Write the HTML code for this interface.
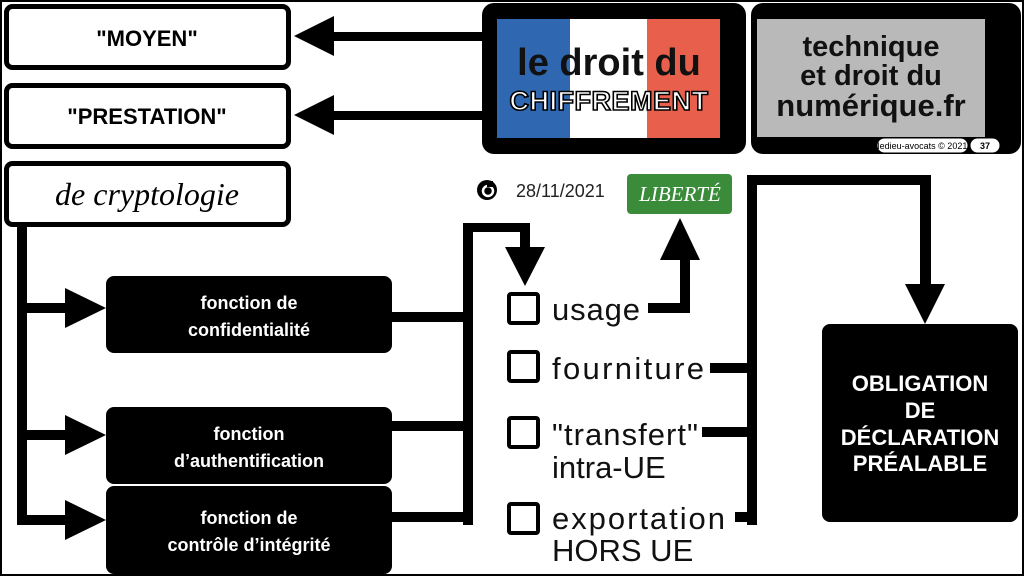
<!DOCTYPE html>
<html><head><meta charset="utf-8"><style>
html,body{margin:0;padding:0;background:#fff}
svg{display:block}
.b{font-family:"Liberation Sans",sans-serif;font-weight:bold}
.r{font-family:"Liberation Sans",sans-serif}
</style></head><body>
<svg width="1024" height="576" viewBox="0 0 1024 576" xmlns="http://www.w3.org/2000/svg">
<rect x="1" y="1" width="1022" height="574" fill="#fff" stroke="#000" stroke-width="2"/>
<rect x="6.5" y="6.5" width="282" height="61" rx="6" fill="#fff" stroke="#000" stroke-width="5"/>
<text x="147" y="46" class="b" font-size="22" text-anchor="middle">"MOYEN"</text>
<rect x="6.5" y="85.5" width="282" height="61" rx="6" fill="#fff" stroke="#000" stroke-width="5"/>
<text x="147" y="124" class="b" font-size="22" text-anchor="middle">"PRESTATION"</text>
<rect x="6.5" y="163.5" width="282" height="61" rx="6" fill="#fff" stroke="#000" stroke-width="5"/>
<text x="147" y="205" font-family="'Liberation Serif',serif" font-style="italic" font-size="32" text-anchor="middle">de cryptologie</text>
<rect x="330" y="32" width="155" height="9" fill="#000"/>
<polygon points="294,36 334,16 334,56" fill="#000"/>
<rect x="330" y="111" width="155" height="9" fill="#000"/>
<polygon points="294,115 334,95 334,135" fill="#000"/>
<rect x="482" y="3" width="264" height="151" rx="12" fill="#000"/>
<rect x="497" y="19" width="73" height="119" fill="#2f67b0"/>
<rect x="570" y="19" width="77" height="119" fill="#fff"/>
<rect x="647" y="19" width="73" height="119" fill="#e8604c"/>
<text x="609" y="75" class="b" font-size="38" text-anchor="middle" fill="#111">le droit du</text>
<text x="609" y="110" class="b" font-size="27" text-anchor="middle" fill="#fff" stroke="#000" stroke-width="1.6" letter-spacing="0.5">CHIFFREMENT</text>
<rect x="751" y="3" width="270" height="151" rx="12" fill="#000"/>
<rect x="757" y="19" width="228" height="118" fill="#b9b9b9"/>
<text x="871" y="56" class="b" font-size="29" text-anchor="middle" fill="#111">technique</text>
<text x="871" y="85" class="b" font-size="29" text-anchor="middle" fill="#111">et droit du</text>
<text x="871" y="116" class="b" font-size="31" text-anchor="middle" fill="#111">numérique.fr</text>
<rect x="877" y="138" width="91" height="15" rx="7.5" fill="#fff" stroke="#000" stroke-width="1"/>
<text x="922.5" y="149" class="r" font-size="9" text-anchor="middle">ledieu-avocats © 2021</text>
<rect x="970" y="138" width="30" height="15" rx="7.5" fill="#fff" stroke="#000" stroke-width="1"/>
<text x="985" y="149" class="b" font-size="9" text-anchor="middle">37</text>
<circle cx="487" cy="190" r="10" fill="#000"/>
<circle cx="488" cy="191" r="5" fill="none" stroke="#fff" stroke-width="2.5"/>
<rect x="487" y="181" width="6" height="6" fill="#000"/>
<text x="516" y="197" class="r" font-size="18" fill="#222">28/11/2021</text>
<rect x="627" y="174" width="105" height="40" rx="4" fill="#3a8c3a"/>
<text x="680" y="201" font-family="'Liberation Serif',serif" font-style="italic" font-size="21" text-anchor="middle" fill="#fff">LIBERTÉ</text>
<rect x="17" y="225" width="10" height="300" fill="#000"/>
<rect x="17" y="303" width="50" height="10" fill="#000"/>
<polygon points="106,308 65,288 65,328" fill="#000"/>
<rect x="17" y="430" width="50" height="10" fill="#000"/>
<polygon points="106,435 65,415 65,455" fill="#000"/>
<rect x="17" y="515" width="50" height="10" fill="#000"/>
<polygon points="106,520 65,500 65,540" fill="#000"/>
<rect x="106" y="276" width="286" height="77" rx="8" fill="#000"/>
<text x="249" y="309" class="b" font-size="18" fill="#fff" text-anchor="middle">fonction de</text>
<text x="249" y="336" class="b" font-size="18" fill="#fff" text-anchor="middle">confidentialité</text>
<rect x="106" y="407" width="286" height="77" rx="8" fill="#000"/>
<text x="249" y="440" class="b" font-size="18" fill="#fff" text-anchor="middle">fonction</text>
<text x="249" y="467" class="b" font-size="18" fill="#fff" text-anchor="middle">d’authentification</text>
<rect x="106" y="486" width="286" height="88" rx="8" fill="#000"/>
<text x="249" y="524" class="b" font-size="18" fill="#fff" text-anchor="middle">fonction de</text>
<text x="249" y="551" class="b" font-size="18" fill="#fff" text-anchor="middle">contrôle d’intégrité</text>
<rect x="463" y="223" width="10" height="302" fill="#000"/>
<rect x="392" y="312" width="75" height="10" fill="#000"/>
<rect x="392" y="421" width="75" height="10" fill="#000"/>
<rect x="392" y="512" width="75" height="10" fill="#000"/>
<rect x="463" y="223" width="67" height="9" fill="#000"/>
<rect x="520" y="223" width="10" height="30" fill="#000"/>
<polygon points="525,286 505,247 545,247" fill="#000"/>
<g fill="none" stroke="#000" stroke-width="4" stroke-linejoin="round">
<rect x="509" y="294" width="29" height="29" rx="2"/>
<rect x="509" y="352" width="29" height="29" rx="2"/>
<rect x="509" y="418" width="29" height="29" rx="2"/>
<rect x="509" y="504" width="29" height="29" rx="2"/>
</g>
<g class="r" font-size="31" fill="#111">
<text x="552" y="320" textLength="88">usage</text>
<text x="552" y="379" textLength="152">fourniture</text>
<text x="552" y="445" textLength="146">"transfert"</text>
<text x="552" y="478">intra-UE</text>
<text x="552" y="529" textLength="173">exportation</text>
<text x="552" y="561">HORS UE</text>
</g>
<rect x="648" y="303" width="42" height="10" fill="#000"/>
<rect x="680" y="255" width="10" height="58" fill="#000"/>
<polygon points="680,218 660,260 700,260" fill="#000"/>
<rect x="747" y="175" width="10" height="350" fill="#000"/>
<rect x="747" y="175" width="184" height="10" fill="#000"/>
<rect x="920" y="175" width="11" height="112" fill="#000"/>
<polygon points="925,324 905,284 945,284" fill="#000"/>
<rect x="710" y="363" width="40" height="10" fill="#000"/>
<rect x="702" y="427" width="48" height="10" fill="#000"/>
<rect x="735" y="512" width="15" height="10" fill="#000"/>
<rect x="822" y="324" width="196" height="198" rx="8" fill="#000"/>
<g class="b" font-size="22" fill="#fff" text-anchor="middle">
<text x="920" y="391">OBLIGATION</text>
<text x="920" y="418">DE</text>
<text x="920" y="445">DÉCLARATION</text>
<text x="920" y="471">PRÉALABLE</text>
</g>
</svg>
</body></html>
